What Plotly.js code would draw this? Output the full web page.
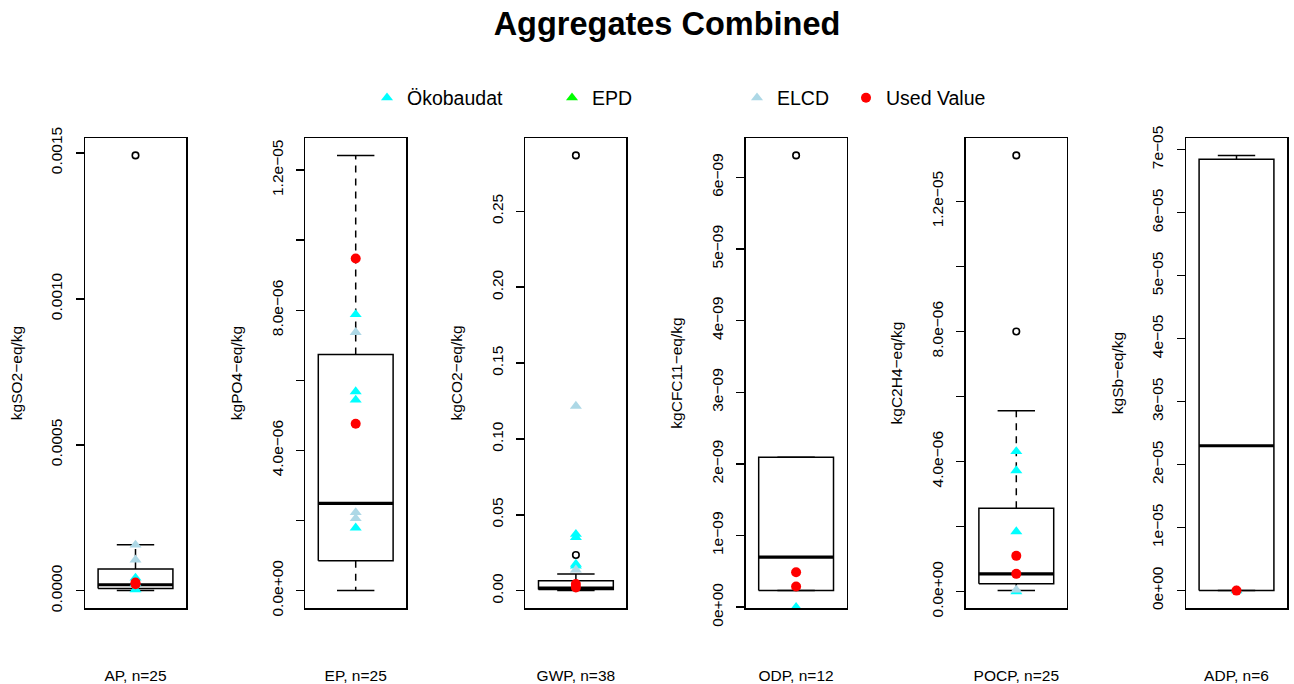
<!DOCTYPE html>
<html>
<head>
<meta charset="utf-8">
<script src="https://cdn.plot.ly/plotly-3.0.1.min.js"></script>
<style>
  html, body { margin: 0; padding: 0; background: #ffffff; }
  #chart { width: 1294px; height: 684px; }
</style>
</head>
<body>
<div id="chart"></div>
<script>
// Impact categories and sample sizes
const categories = ['AP', 'EP', 'GWP', 'ODP', 'POCP', 'ADP'];
const sampleCounts = [25, 25, 38, 12, 25, 6];
const units = ['kgSO2−eq/kg', 'kgPO4−eq/kg', 'kgCO2−eq/kg', 'kgCFC11−eq/kg', 'kgC2H4−eq/kg', 'kgSb−eq/kg'];

// Box statistics per category
const lowerWhisker  = [0.0000005, 0,       0.0001, 0.232e-9, 0.03e-6,  0];
const lowerQuartile = [0.0000079, 0.855e-6, 0.0008, 0.232e-9, 0.237e-6, 0];
const medians       = [0.0000205, 2.49e-6,  0.0018, 0.698e-9, 0.545e-6, 23.0e-6];
const upperQuartile = [0.0000743, 6.74e-6,  0.0066, 2.095e-9, 2.566e-6, 68.5e-6];
const upperWhisker  = [0.0001575, 12.42e-6, 0.011,  2.095e-9, 5.56e-6,  69.1e-6];
const outliers = [
  [0.001491],
  [],
  [0.2868, 0.0235],
  [6.307e-9],
  [13.415e-6, 8.0e-6],
  []
];

// Individual values by data source
const oekobaudat = [
  [0.000044, 0.000024, 0.000004],
  [7.88e-6, 5.68e-6, 5.44e-6, 1.79e-6],
  [0.0373, 0.0351, 0.0176, 0.0164],
  [0],
  [4.31e-6, 3.72e-6, 1.846e-6, 0],
  [0]
];
const epd = [[], [], [], [], [], []];
const elcd = [
  [0.000157, 0.000106],
  [7.37e-6, 2.23e-6, 2.06e-6],
  [0.1217, 0.0138],
  [],
  [0.05e-6],
  []
];
const usedValue = [
  [0.000028, 0.000022],
  [9.48e-6, 4.76e-6],
  [0.0044, 0.0022],
  [0.489e-9, 0.288e-9],
  [1.098e-6, 0.545e-6],
  [0]
];

// Y tick positions and labels per panel
const tickValues = [
  [0, 0.0005, 0.0010, 0.0015],
  [0, 2e-6, 4e-6, 6e-6, 8e-6, 1e-5, 1.2e-5],
  [0, 0.05, 0.10, 0.15, 0.20, 0.25],
  [0, 1e-9, 2e-9, 3e-9, 4e-9, 5e-9, 6e-9],
  [0, 2e-6, 4e-6, 6e-6, 8e-6, 1e-5, 1.2e-5],
  [0, 1e-5, 2e-5, 3e-5, 4e-5, 5e-5, 6e-5, 7e-5]
];
const tickLabels = [
  ['0.0000', '0.0005', '0.0010', '0.0015'],
  ['0.0e+00', '', '4.0e−06', '', '8.0e−06', '', '1.2e−05'],
  ['0.00', '0.05', '0.10', '0.15', '0.20', '0.25'],
  ['0e+00', '1e−09', '2e−09', '3e−09', '4e−09', '5e−09', '6e−09'],
  ['0.0e+00', '', '4.0e−06', '', '8.0e−06', '', '1.2e−05'],
  ['0e+00', '1e−05', '2e−05', '3e−05', '4e−05', '5e−05', '6e−05', '7e−05']
];

const sources = [
  { name: 'Ökobaudat', values: oekobaudat, color: '#00FFFF', symbol: 'triangle-up', legend: 'legend' },
  { name: 'EPD', values: epd, color: '#00FF00', symbol: 'triangle-up', legend: 'legend2' },
  { name: 'ELCD', values: elcd, color: '#ADD8E6', symbol: 'triangle-up', legend: 'legend3' },
  { name: 'Used Value', values: usedValue, color: '#FF0000', symbol: 'circle', legend: 'legend4' }
];

const FONT = '"Liberation Sans", Arial, Helvetica, sans-serif';
const W = 1294, H = 684;
const boxHalf = 0.4, capHalf = 0.2;
const panelLeft = 85, panelStep = 220.2, panelWidth = 101;
const plotTop = 138, plotBottom = 608;

const traces = [];
const layout = {
  width: W, height: H,
  margin: { l: 0, r: 0, t: 0, b: 0 },
  paper_bgcolor: '#ffffff',
  plot_bgcolor: '#ffffff',
  font: { family: FONT, color: '#000000', size: 15.5 },
  title: {
    text: 'Aggregates Combined',
    font: { family: FONT, size: 32.5, weight: 'bold', color: '#000000' },
    x: 667 / W, xanchor: 'center', xref: 'paper',
    y: 1 - 24 / H, yanchor: 'middle', yref: 'container'
  },
  showlegend: true
};

const legendTextStart = [407, 592, 777, 886];
['legend', 'legend2', 'legend3', 'legend4'].forEach((key, i) => {
  layout[key] = {
    orientation: 'h',
    x: (legendTextStart[i] - 40) / W, xanchor: 'left',
    y: 1 - 98 / H, yanchor: 'middle',
    font: { family: FONT, size: 19.5, color: '#000000' },
    bgcolor: 'rgba(0,0,0,0)',
    borderwidth: 0,
    itemwidth: 30
  };
});

categories.forEach((cat, i) => {
  const n = i + 1;
  const xa = 'x' + n, ya = 'y' + n;
  const left = panelLeft + panelStep * i;

  // y range: data extent padded by 4% on each side
  const lo = Math.min(lowerWhisker[i], ...outliers[i]);
  const hi = Math.max(upperWhisker[i], ...outliers[i]);
  const pad = (hi - lo) * 0.04;

  layout['xaxis' + n] = {
    domain: [left / W, (left + panelWidth) / W],
    range: [0.46, 1.54],
    anchor: ya,
    showgrid: false, zeroline: false,
    showticklabels: false, ticks: '',
    showline: true, mirror: true, linecolor: '#000000', linewidth: 1.5,
    fixedrange: true,
    title: {
      text: cat + ', n=' + sampleCounts[i],
      font: { family: FONT, size: 15.5, color: '#000000' },
      standoff: 61
    }
  };
  layout['yaxis' + n] = {
    domain: [1 - plotBottom / H, 1 - plotTop / H],
    range: [lo - pad, hi + pad],
    anchor: xa,
    showgrid: false, zeroline: false,
    showline: true, mirror: true, linecolor: '#000000', linewidth: 1.5,
    ticks: 'outside', ticklen: 8, tickwidth: 1.5, tickcolor: '#000000',
    tickmode: 'array', tickvals: tickValues[i], ticktext: tickLabels[i],
    tickangle: -90,
    tickfont: { family: FONT, size: 15.5, color: '#000000' },
    ticklabelstandoff: 7,
    fixedrange: true,
    title: {
      text: units[i],
      font: { family: FONT, size: 15.5, color: '#000000' },
      standoff: 22
    }
  };

  const common = { xaxis: xa, yaxis: ya, hoverinfo: 'skip', showlegend: false, type: 'scatter' };

  // box body
  traces.push(Object.assign({}, common, {
    mode: 'lines',
    x: [1 - boxHalf, 1 + boxHalf, 1 + boxHalf, 1 - boxHalf, 1 - boxHalf],
    y: [lowerQuartile[i], lowerQuartile[i], upperQuartile[i], upperQuartile[i], lowerQuartile[i]],
    line: { color: '#000000', width: 1.5 }
  }));
  // whiskers (dashed)
  traces.push(Object.assign({}, common, {
    mode: 'lines',
    x: [1, 1, null, 1, 1],
    y: [upperQuartile[i], upperWhisker[i], null, lowerQuartile[i], lowerWhisker[i]],
    line: { color: '#000000', width: 1.5, dash: '7px,6px' }
  }));
  // whisker caps
  traces.push(Object.assign({}, common, {
    mode: 'lines',
    x: [1 - capHalf, 1 + capHalf, null, 1 - capHalf, 1 + capHalf],
    y: [upperWhisker[i], upperWhisker[i], null, lowerWhisker[i], lowerWhisker[i]],
    line: { color: '#000000', width: 1.5 }
  }));
  // median
  traces.push(Object.assign({}, common, {
    mode: 'lines',
    x: [1 - boxHalf, 1 + boxHalf],
    y: [medians[i], medians[i]],
    line: { color: '#000000', width: 3.2 }
  }));
  // outliers
  if (outliers[i].length) {
    traces.push(Object.assign({}, common, {
      mode: 'markers',
      x: outliers[i].map(() => 1),
      y: outliers[i],
      marker: { symbol: 'circle-open', size: 6.5, color: '#000000', line: { width: 1.6, color: '#000000' } }
    }));
  }
  // individual values by source
  sources.forEach(src => {
    const vals = src.values[i];
    traces.push(Object.assign({}, common, {
      mode: 'markers',
      name: src.name,
      legend: src.legend,
      legendgroup: src.name,
      showlegend: i === 0,
      x: vals.length ? vals.map(() => 1) : [null],
      y: vals.length ? vals : [null],
      marker: { symbol: src.symbol, size: src.symbol === 'circle' ? 10 : 10.5, color: src.color, line: { width: 0 } }
    }));
  });
});

Plotly.newPlot('chart', traces, layout, { displayModeBar: false, staticPlot: true });
</script>
</body>
</html>
